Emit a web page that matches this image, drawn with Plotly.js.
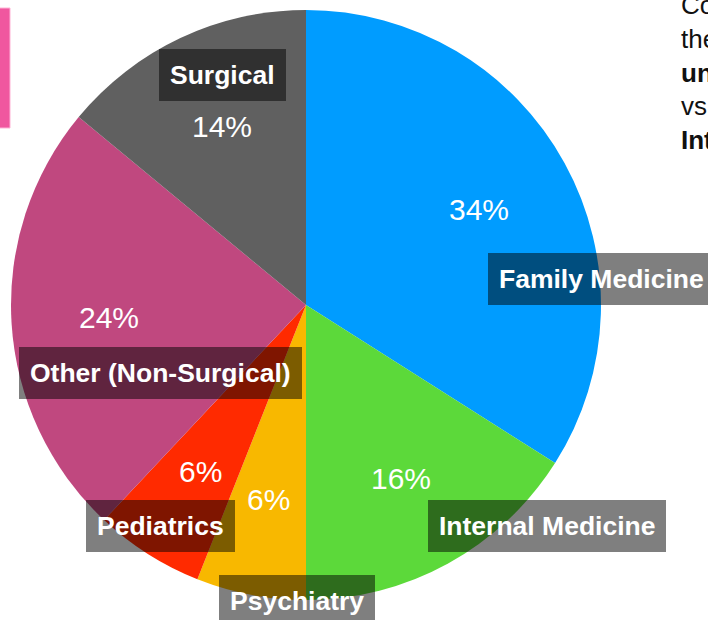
<!DOCTYPE html>
<html>
<head>
<meta charset="utf-8">
<script src="https://cdn.plot.ly/plotly-3.0.1.min.js"></script>
<style>html,body{margin:0;padding:0;background:#fff;}#chart{width:708px;height:620px;}</style>
</head>
<body>
<div id="chart"></div>
<script>
// Data
var categories = ["Family Medicine", "Internal Medicine", "Psychiatry", "Pediatrics", "Other (Non-Surgical)", "Surgical"];
var shares = [34, 16, 6, 6, 24, 14];
var sliceColors = ["#009cff", "#5cd93a", "#f8b800", "#ff2a00", "#c0487f", "#606060"];
var sideNote = ["Compared to", "their peers,", "<b>underrepresented</b>", "vs. other fields,", "<b>Internal Medicine</b>"];

var W = 708, H = 620;
function px(x) { return x / W; }
function py(y) { return 1 - y / H; }

// pie geometry (layout)
var CX = 306, CY = 305, R = 295, TEXT_R = 0.67;

// label box placements (layout only)
var labelPos = [
  {x: 488, y: 279, xanchor: "left"},
  {x: 547, y: 526, xanchor: "center"},
  {x: 297, y: 601, xanchor: "center"},
  {x: 160, y: 526, xanchor: "center"},
  {x: 160, y: 373, xanchor: "center"},
  {x: 222, y: 75, xanchor: "center"}
];

var font = "'Liberation Sans', Arial, Helvetica, sans-serif";

var total = shares.reduce(function (a, b) { return a + b; }, 0);
var annotations = [];

// percentage labels at the middle angle of each slice
var cum = 0;
shares.forEach(function (v) {
  var mid = (cum + v / 2) / total * 2 * Math.PI;
  cum += v;
  var sx = CX + R * TEXT_R * Math.sin(mid);
  var sy = CY - R * TEXT_R * Math.cos(mid);
  annotations.push({
    xref: "paper", yref: "paper",
    x: px(sx), y: py(sy), xanchor: "center", yanchor: "middle",
    text: Math.round(v / total * 100) + "%", showarrow: false,
    font: {family: font, size: 30, color: "#ffffff"}
  });
});

categories.forEach(function (c, i) {
  var p = labelPos[i];
  annotations.push({
    xref: "paper", yref: "paper",
    x: px(p.x), y: py(p.y), xanchor: p.xanchor, yanchor: "middle",
    text: "<b>" + c + "</b>", showarrow: false,
    font: {family: font, size: 26.5, color: "#ffffff"},
    bgcolor: "rgba(0,0,0,0.5)", borderpad: 11, borderwidth: 0
  });
});

annotations.push({
  xref: "paper", yref: "paper",
  x: px(679), y: py(73), xanchor: "left", yanchor: "middle", align: "left",
  text: sideNote.join("<br>"), showarrow: false,
  font: {family: font, size: 26, color: "#111111"}
});

var trace = {
  type: "pie",
  labels: categories,
  values: shares,
  sort: false,
  direction: "clockwise",
  rotation: 0,
  marker: {colors: sliceColors, line: {width: 0}},
  textinfo: "none",
  hoverinfo: "label+percent",
  showlegend: false,
  domain: {x: [px(CX - R), px(CX + R)], y: [py(CY + R), py(CY - R)]}
};

var layout = {
  width: W, height: H,
  margin: {l: 0, r: 0, t: 0, b: 0},
  paper_bgcolor: "#ffffff",
  showlegend: false,
  annotations: annotations,
  shapes: [{
    type: "rect", xref: "paper", yref: "paper",
    x0: px(-6), x1: px(10), y0: py(128), y1: py(8),
    fillcolor: "#f0579f", line: {color: "#ffb3d6", width: 1}
  }]
};

Plotly.newPlot("chart", [trace], layout, {displayModeBar: false, staticPlot: true});
</script>
</body>
</html>
